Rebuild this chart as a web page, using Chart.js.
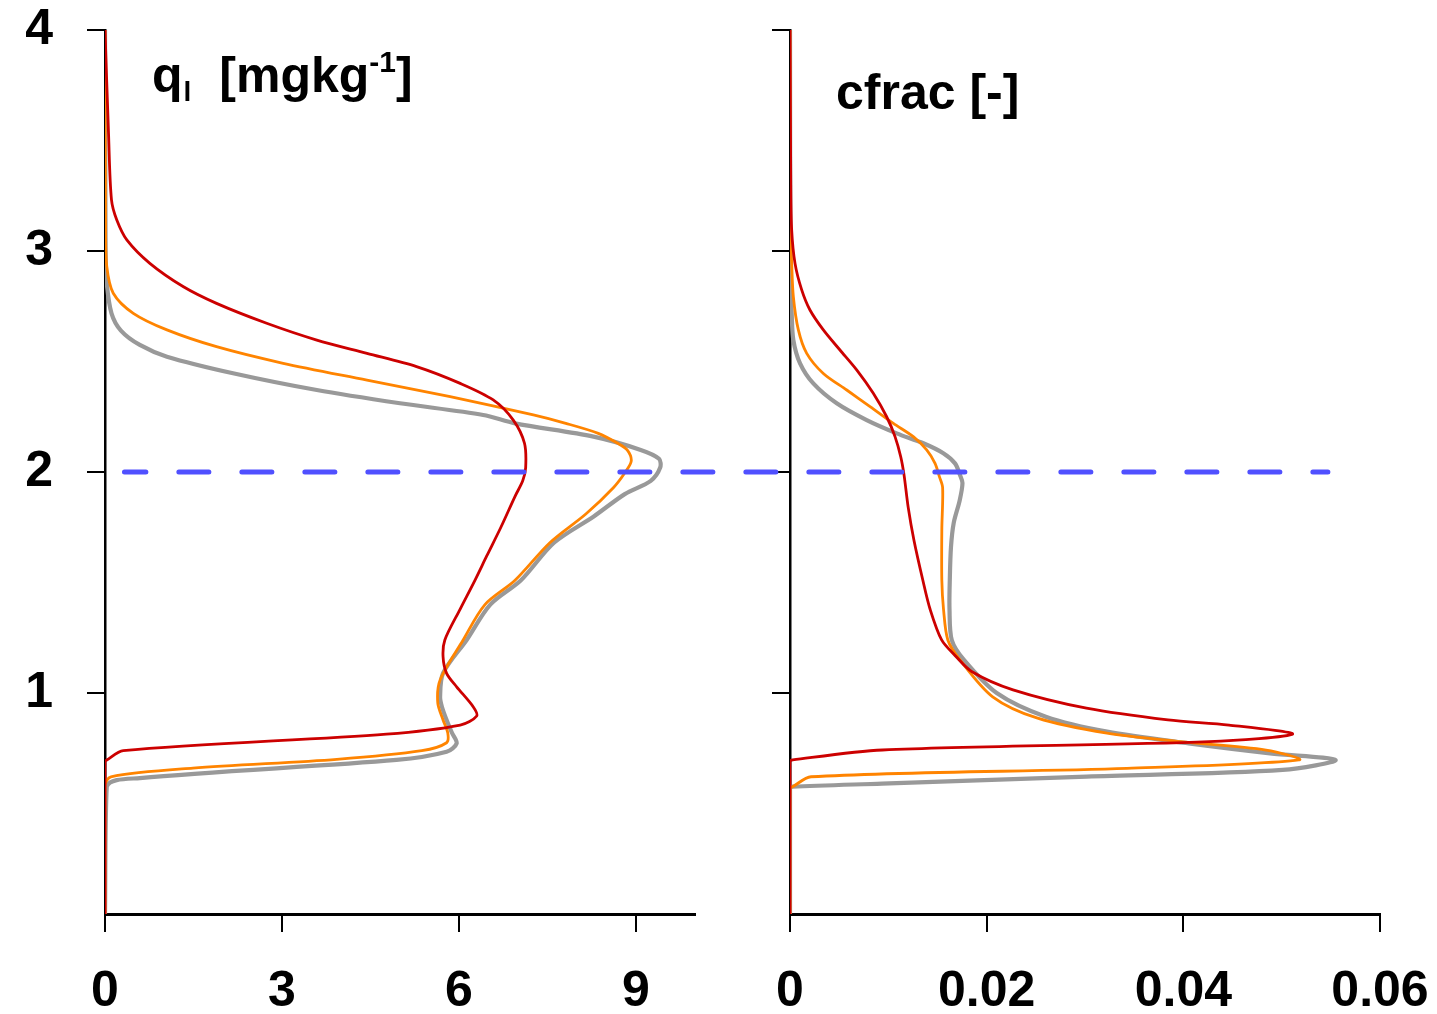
<!DOCTYPE html>
<html>
<head>
<meta charset="utf-8">
<script src="https://cdn.jsdelivr.net/npm/chart.js@4.4.0/dist/chart.umd.min.js"></script>
<style>
  body { margin: 0; background: #fff; }
  canvas { position: absolute; left: 0; top: 0; }
</style>
</head>
<body>
<canvas id="qlChart" width="1437" height="1014"></canvas>
<canvas id="cfChart" width="1437" height="1014"></canvas>
<script>
// heights (km) and values
var qlGrayZ  = [0, 0.576, 0.615, 0.697, 0.734, 0.772, 0.82, 0.878, 0.938, 0.983, 1.09, 1.24, 1.40, 1.51, 1.68, 1.80, 1.90, 1.96, 2.02, 2.06, 2.10, 2.16, 2.22, 2.258, 2.311, 2.371, 2.447, 2.522, 2.575, 2.64, 2.718, 2.854, 3.0, 4.0];
var qlGray   = [0, 0.03, 0.59, 4.94, 5.79, 5.96, 5.88, 5.79, 5.71, 5.68, 5.73, 6.13, 6.53, 7.05, 7.61, 8.29, 8.81, 9.25, 9.41, 9.39, 9.08, 8.28, 6.95, 6.41, 5.0, 3.59, 2.17, 1.05, 0.59, 0.27, 0.11, 0.03, 0.01, 0];
var qlOrangeZ = [0, 0.58, 0.621, 0.66, 0.70, 0.739, 0.775, 0.819, 0.878, 0.955, 1.059, 1.24, 1.40, 1.51, 1.68, 1.81, 1.93, 2.00, 2.05, 2.10, 2.13, 2.175, 2.22, 2.258, 2.341, 2.416, 2.492, 2.567, 2.643, 2.718, 2.809, 2.93, 3.1, 4.0];
var qlOrange  = [0, 0, 0.1, 1.49, 3.93, 5.37, 5.79, 5.81, 5.73, 5.64, 5.68, 6.07, 6.44, 6.95, 7.54, 8.15, 8.62, 8.82, 8.92, 8.85, 8.69, 8.36, 7.81, 7.26, 5.85, 4.44, 3.02, 1.89, 1.05, 0.48, 0.14, 0.03, 0.01, 0];
var qlRedZ = [0, 0.69, 0.697, 0.739, 0.814, 0.855, 0.896, 0.938, 1.028, 1.089, 1.164, 1.24, 1.38, 1.51, 1.62, 1.75, 1.89, 1.96, 2.02, 2.13, 2.235, 2.326, 2.401, 2.477, 2.537, 2.597, 2.673, 2.763, 2.838, 2.944, 3.05, 3.14, 3.231, 3.53, 4.0];
var qlRed  = [0, 0, 0.03, 0.31, 4.77, 6.02, 6.3, 6.24, 5.96, 5.79, 5.73, 5.76, 6.02, 6.27, 6.47, 6.71, 6.95, 7.08, 7.13, 7.11, 6.92, 6.58, 6.02, 5.28, 4.44, 3.59, 2.74, 1.89, 1.33, 0.76, 0.37, 0.20, 0.11, 0.06, 0];

var cfGrayZ = [0, 0.57, 0.576, 0.59, 0.622, 0.652, 0.697, 0.727, 0.772, 0.825, 0.893, 1.0, 1.15, 1.24, 1.38, 1.51, 1.66, 1.77, 1.87, 1.95, 1.986, 2.039, 2.085, 2.13, 2.175, 2.235, 2.311, 2.401, 2.492, 2.597, 2.719, 2.85, 4.0];
var cfGray  = [0, 0, 0.00027, 0.00936, 0.03015, 0.05009, 0.05548, 0.04882, 0.04054, 0.03224, 0.02601, 0.02102, 0.01769, 0.01645, 0.01622, 0.01625, 0.01637, 0.01665, 0.01725, 0.01754, 0.01729, 0.01678, 0.01559, 0.01356, 0.01085, 0.00780, 0.00475, 0.00237, 0.00102, 0.00034, 0.00017, 0.00005, 0];
var cfOrangeZ = [0, 0.57, 0.576, 0.621, 0.659, 0.697, 0.742, 0.78, 0.818, 0.886, 0.983, 1.15, 1.24, 1.38, 1.51, 1.74, 1.93, 1.979, 2.039, 2.10, 2.16, 2.22, 2.296, 2.371, 2.446, 2.537, 2.643, 2.793, 2.946, 3.1, 4.0];
var cfOrange  = [0, 0, 0.00027, 0.00214, 0.03427, 0.05175, 0.04841, 0.03970, 0.03224, 0.02518, 0.02061, 0.01729, 0.01605, 0.01561, 0.01544, 0.01544, 0.01552, 0.01519, 0.01475, 0.01390, 0.01254, 0.01051, 0.00814, 0.00577, 0.00339, 0.00170, 0.00085, 0.00034, 0.00017, 0.00005, 0];
var cfRedZ = [0, 0.69, 0.697, 0.742, 0.78, 0.814, 0.855, 0.878, 0.931, 1.014, 1.096, 1.17, 1.24, 1.38, 1.51, 1.69, 1.84, 1.986, 2.069, 2.16, 2.25, 2.356, 2.462, 2.552, 2.643, 2.733, 2.824, 2.944, 3.095, 3.3, 4.0];
var cfRed  = [0, 0, 0.00027, 0.00941, 0.04261, 0.05111, 0.04464, 0.03844, 0.03015, 0.02268, 0.01851, 0.01678, 0.01542, 0.01424, 0.01351, 0.01261, 0.01202, 0.01160, 0.01126, 0.01068, 0.00983, 0.00847, 0.00678, 0.00508, 0.00339, 0.00203, 0.00119, 0.00051, 0.00017, 0.00008, 0];

var yTicks = [1, 2, 3, 4];
var qlTicks = [0, 3, 6, 9];
var cfTicks = [0, 0.02, 0.04, 0.06];
var cfTickLabels = ['0', '0.02', '0.04', '0.06'];

// inversion height line
var inversionZ = 2;
var dashFromQl = 0.33;
var dashToCf = 0.0547;

function pts(xs, zs) {
    return xs.map(function (v, i) { return { x: v, y: zs[i] }; });
}

function line(data, color, width) {
    return { data: data, borderColor: color, borderWidth: width, showLine: true, pointRadius: 0, tension: 0.3, fill: false };
}

var font = "'Liberation Sans', Arial, Helvetica, sans-serif";

function scales(xmax, xTicks, xLabels, yWidth, showY) {
    return {
        x: {
            type: 'linear', min: 0, max: xmax, z: 1,
            afterBuildTicks: function (s) { s.ticks = xTicks.map(function (v) { return { value: v }; }); },
            afterFit: function (s) { s.height = 100; s.paddingLeft = 0; s.paddingRight = 0; },
            grid: { drawOnChartArea: false, drawTicks: true, tickLength: 18, color: '#000', lineWidth: 2 },
            border: { display: true, color: '#000', width: 3 },
            ticks: {
                color: '#000', padding: 30, maxRotation: 0, autoSkip: false,
                font: { family: font, size: 50, weight: 'bold' },
                callback: function (v, i) { return xLabels ? xLabels[i] : String(v); }
            }
        },
        y: {
            type: 'linear', min: 0, max: 4, z: 1,
            afterBuildTicks: function (s) { s.ticks = yTicks.map(function (v) { return { value: v }; }); },
            afterFit: function (s) { s.width = yWidth; s.paddingTop = 0; s.paddingBottom = 0; },
            grid: { drawOnChartArea: false, drawTicks: true, tickLength: 18, color: '#000', lineWidth: 2 },
            border: { display: true, color: '#000', width: 2.5 },
            ticks: {
                display: showY, color: '#000', padding: 34,
                font: { family: font, size: 50, weight: 'bold' }
            }
        }
    };
}

var qlTitle = {
    id: 'qlTitle',
    afterDraw: function (chart) {
        var c = chart.ctx, a = chart.chartArea;
        var x = a.left + 47, base = 92;
        c.save();
        c.fillStyle = '#000';
        c.textBaseline = 'alphabetic';
        c.font = 'bold 50px ' + font;
        c.fillText('q', x, base);
        x += c.measureText('q').width + 1;
        c.font = 'bold 28px ' + font;
        c.fillText('l', x, base + 9);
        x += c.measureText('l').width + 28;
        c.font = 'bold 50px ' + font;
        c.fillText('[mgkg', x, base);
        x += c.measureText('[mgkg').width;
        c.font = 'bold 30px ' + font;
        c.fillText('-1', x, base - 20);
        x += c.measureText('-1').width;
        c.font = 'bold 50px ' + font;
        c.fillText(']', x, base);
        c.restore();
    }
};

var cfTitle = {
    id: 'cfTitle',
    afterDraw: function (chart) {
        var c = chart.ctx, a = chart.chartArea;
        c.save();
        c.fillStyle = '#000';
        c.font = 'bold 50px ' + font;
        c.fillText('cfrac [-]', a.left + 46, 109);
        c.restore();
    }
};

var qlChart = new Chart(document.getElementById('qlChart'), {
    type: 'scatter',
    data: {
        datasets: [
            line(pts(qlRed, qlRedZ), '#cc0000', 2.8),
            line(pts(qlOrange, qlOrangeZ), '#ff8400', 2.8),
            line(pts(qlGray, qlGrayZ), '#999999', 4.2)
        ]
    },
    options: {
        responsive: false, animation: false, devicePixelRatio: 1,
        layout: { padding: { left: 0, top: 30, right: 742, bottom: 0 } },
        plugins: { legend: { display: false }, tooltip: { enabled: false } },
        scales: scales(10, qlTicks, null, 105, true)
    },
    plugins: [qlTitle]
});

var dashLine = {
    id: 'dashLine',
    afterDraw: function (chart) {
        var c = chart.ctx;
        var x0 = qlChart.scales.x.getPixelForValue(dashFromQl);
        var x1 = chart.scales.x.getPixelForValue(dashToCf);
        var y = chart.scales.y.getPixelForValue(inversionZ);
        c.save();
        c.strokeStyle = '#5050ff';
        c.lineWidth = 5;
        c.lineCap = 'round';
        c.setLineDash([30, 33]);
        c.lineDashOffset = 8.6;
        c.beginPath();
        c.moveTo(x0, y);
        c.lineTo(x1, y);
        c.stroke();
        c.restore();
    }
};

var cfChart = new Chart(document.getElementById('cfChart'), {
    type: 'scatter',
    data: {
        datasets: [
            line(pts(cfRed, cfRedZ), '#cc0000', 2.8),
            line(pts(cfOrange, cfOrangeZ), '#ff8400', 2.8),
            line(pts(cfGray, cfGrayZ), '#999999', 4.2)
        ]
    },
    options: {
        responsive: false, animation: false, devicePixelRatio: 1,
        layout: { padding: { left: 760, top: 30, right: 57, bottom: 0 } },
        plugins: { legend: { display: false }, tooltip: { enabled: false } },
        scales: scales(0.06, cfTicks, cfTickLabels, 30, false)
    },
    plugins: [cfTitle, dashLine]
});
</script>
</body>
</html>
